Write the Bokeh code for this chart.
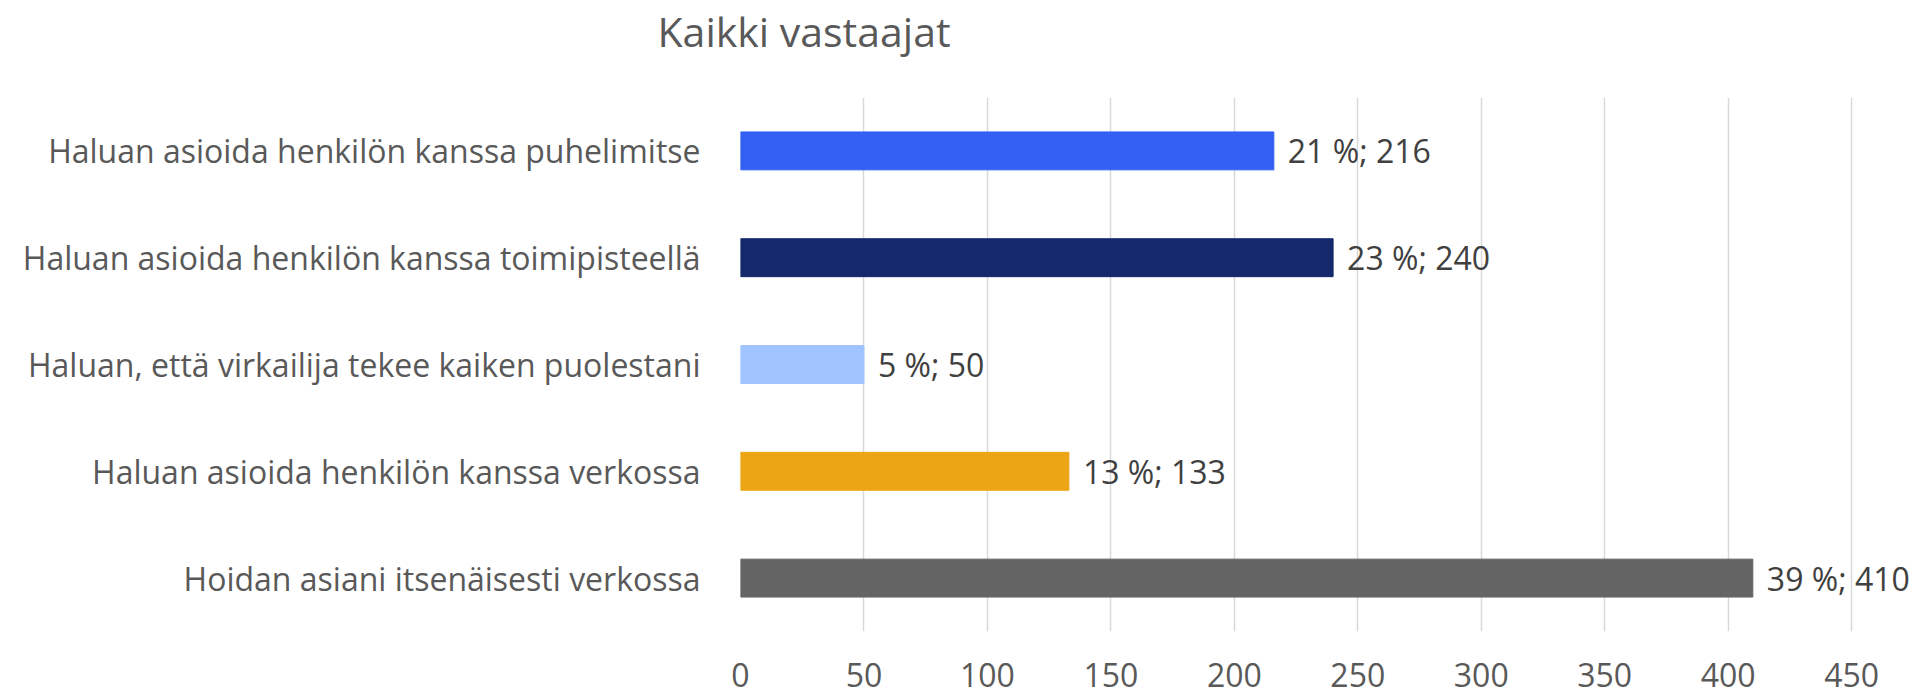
from bokeh.plotting import figure
from bokeh.models import Range1d, FactorRange, FixedTicker, ColumnDataSource
from bokeh.core.properties import value
from bokeh.embed import file_html
from bokeh.resources import INLINE

# Data (top-to-bottom as in the chart)
title_text = "Kaikki vastaajat"
categories = [
    "Haluan asioida henkilön kanssa puhelimitse",
    "Haluan asioida henkilön kanssa toimipisteellä",
    "Haluan, että virkailija tekee kaiken puolestani",
    "Haluan asioida henkilön kanssa verkossa",
    "Hoidan asiani itsenäisesti verkossa",
]
counts = [216, 240, 50, 133, 410]
percents = [21, 23, 5, 13, 39]
colors = ["#3160F2", "#14286B", "#A0C4FF", "#EBA515", "#646464"]
x_ticks = [0, 50, 100, 150, 200, 250, 300, 350, 400, 450]

labels = [f"{pc} %; {c}" for pc, c in zip(percents, counts)]

src = ColumnDataSource(dict(cat=categories, cnt=counts, lab=labels, col=colors))

FONT = "Open Sans"
W, H = 1919, 695
LEFT, TOP, BOTTOM = 740, 95, 64

p = figure(
    width=W, height=H,
    y_range=FactorRange(factors=categories[::-1]),
    x_range=Range1d(0, 477.5),
    output_backend="svg", toolbar_location=None,
    min_border_left=LEFT, min_border_right=0, min_border_top=TOP, min_border_bottom=BOTTOM,
)
p.hbar(y="cat", left=0, right="cnt", height=0.355, color="col", source=src)
p.text(x="cnt", y="cat", text="lab", source=src, x_offset=14,
       text_baseline="middle", text_align="left",
       text_font=value(FONT), text_font_size="32px", text_color="#404040")

p.title.text = title_text
p.title.text_font = FONT
p.title.text_font_size = "41px"
p.title.text_font_style = "normal"
p.title.text_color = "#595959"
p.title.align = "left"
p.title.offset = 657 - LEFT
p.title.standoff = 0
p.title.padding = dict(left=0, right=0, top=0, bottom=39)

p.outline_line_color = None
p.ygrid.grid_line_color = None
p.xgrid.ticker = FixedTicker(ticks=x_ticks)
p.xgrid.grid_line_color = "#D9D9D9"
p.xgrid.grid_line_width = 1.5

p.xaxis.ticker = FixedTicker(ticks=x_ticks)
for ax in (p.xaxis[0], p.yaxis[0]):
    ax.axis_line_color = None
    ax.major_tick_line_color = None
    ax.minor_tick_line_color = None
    ax.major_label_text_font = FONT
    ax.major_label_text_color = "#595959"
p.xaxis.major_label_text_font_size = "32px"
p.xaxis.major_label_standoff = 25
p.yaxis.major_label_text_font_size = "32px"
p.yaxis.major_label_standoff = 34

open("out.html", "w").write(file_html(p, INLINE))
